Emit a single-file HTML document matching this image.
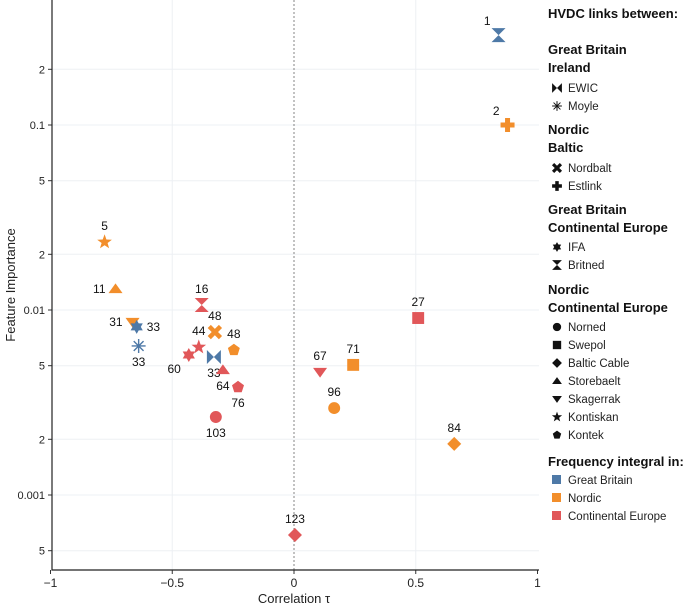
<!DOCTYPE html>
<html><head><meta charset="utf-8">
<style>
body{margin:0;background:#fff;font-family:"Liberation Sans","DejaVu Sans",sans-serif;}
svg{display:block}
text{font-family:"Liberation Sans","DejaVu Sans",sans-serif;}
</style></head>
<body>
<svg id="chart" width="685" height="611"></svg>
<script>
// ---- data ----
const pointLabels = ["1","2","5","11","31","33","33","16","48","48","44","60","33","64","76","103","67","71","27","96","84","123"];
const corrValues = [0.84,0.877,-0.778,-0.733,-0.663,-0.646,-0.638,-0.379,-0.325,-0.247,-0.391,-0.432,-0.329,-0.292,-0.230,-0.321,0.107,0.243,0.51,0.165,0.658,0.004];
const importanceValues = [0.306,0.1,0.0233,0.0130,0.0086,0.0081,0.00639,0.01064,0.0076,0.00608,0.0063,0.00571,0.00557,0.00474,0.00383,0.00264,0.00462,0.00505,0.00905,0.00295,0.00189,0.000608];
const linkTypes = ["britned","estlink","kontiskan","storebaelt","skagerrak","ifa","moyle","britned","nordbalt","kontek","kontiskan","ifa","ewic","storebaelt","kontek","norned","skagerrak","swepol","swepol","norned","baltic","baltic"];
const regions = ["gb","nordic","nordic","nordic","nordic","gb","gb","ce","nordic","nordic","ce","ce","gb","ce","ce","ce","ce","nordic","ce","nordic","nordic","ce"];
const xTickValues = [-1,-0.5,0,0.5,1];
const xTickLabels = ["−1","−0.5","0","0.5","1"];
const yTickValues = [0.2,0.1,0.05,0.02,0.01,0.005,0.002,0.001,0.0005];
const yTickLabels = ["2","0.1","5","2","0.01","5","2","0.001","5"];
// label placement (layout, not data): side of the marker
const labelSide = ["lt","lt","t","l","l","r","b","t","t","t","t","bl","b","b","b","b","t","t","t","t","t","t"];

const colors={gb:"#4e79a7",nordic:"#f28e2b",ce:"#e15759"};
const svg=document.getElementById('chart');
const NS="http://www.w3.org/2000/svg";
const L=52,R=539,T=0,B=570;
function xs(v){return 294+v*243.5;}
function ys(v){return 310-185*(Math.log10(v)+2);}
function mk(tag,attrs,parent){const e=document.createElementNS(NS,tag);for(const k in attrs)e.setAttribute(k,attrs[k]);(parent||svg).appendChild(e);return e;}

yTickValues.forEach((v,i)=>{
  const g=mk('line',{x1:L,x2:R,y1:ys(v),y2:ys(v),stroke:"#edf0f4","stroke-width":1});
  
  
  mk('line',{x1:L-4,x2:L,y1:ys(v),y2:ys(v),stroke:"#333"});
  const t=mk('text',{x:L-7,y:ys(v)+4,"text-anchor":"end","font-size":11,fill:"#222"});
  t.textContent=yTickLabels[i];
  
  
});
xTickValues.forEach((v,i)=>{
  if(v>-1&&v<1&&v!==0){const g=mk('line',{x1:xs(v),x2:xs(v),y1:T,y2:B,stroke:"#edf0f4"});
  
  }
  mk('line',{x1:xs(v),x2:xs(v),y1:B,y2:B+4,stroke:"#333"});
  const t=mk('text',{x:xs(v),y:B+17,"text-anchor":"middle","font-size":12,fill:"#222"});
  t.textContent=xTickLabels[i];
  
  
});
const zl=mk('line',{x1:xs(0),x2:xs(0),y1:T,y2:B,stroke:"#666","stroke-dasharray":"2,2","stroke-width":0.8});


const ax=mk('path',{d:`M${L},${T}V${B}H${R}`,fill:"none",stroke:"#222","stroke-width":1.2});


const xt=mk('text',{x:294,y:603,"text-anchor":"middle","font-size":13,fill:"#222"});xt.textContent="Correlation τ";


const yt=mk('text',{x:0,y:0,transform:"translate(15,285) rotate(-90)","text-anchor":"middle","font-size":13,fill:"#222"});yt.textContent="Feature Importance";



function starPts(cx,cy,n,ro,ri,rot){let p=[];for(let i=0;i<2*n;i++){const a=rot+Math.PI*i/n;const r=i%2?ri:ro;p.push((cx+r*Math.sin(a)).toFixed(1)+","+(cy-r*Math.cos(a)).toFixed(1));}return p.join(" ");}
function marker(type,cx,cy,c,s,parent){
  s=s||1;const r=7*s;let e;
  switch(type){
    case"britned":e=mk('polygon',{points:`${cx-r},${cy-r} ${cx+r},${cy-r} ${cx-r},${cy+r} ${cx+r},${cy+r}`,fill:c},parent);break;
    case"ewic":e=mk('polygon',{points:`${cx-r},${cy-r} ${cx+r},${cy+r} ${cx+r},${cy-r} ${cx-r},${cy+r}`,fill:c},parent);break;
    case"estlink":e=mk('path',{d:`M${cx-r},${cy}H${cx+r}M${cx},${cy-r}V${cy+r}`,stroke:c,"stroke-width":5*s},parent);break;
    case"nordbalt":e=mk('path',{d:`M${cx-r*0.8},${cy-r*0.8}L${cx+r*0.8},${cy+r*0.8}M${cx+r*0.8},${cy-r*0.8}L${cx-r*0.8},${cy+r*0.8}`,stroke:c,"stroke-width":4.5*s},parent);break;
    case"moyle":e=mk('path',{d:`M${cx-r},${cy}H${cx+r}M${cx},${cy-r}V${cy+r}M${cx-r*.7},${cy-r*.7}L${cx+r*.7},${cy+r*.7}M${cx+r*.7},${cy-r*.7}L${cx-r*.7},${cy+r*.7}`,stroke:c,"stroke-width":1.4*s},parent);break;
    case"kontiskan":e=mk('polygon',{points:starPts(cx,cy,5,r*1.1,r*0.45,0),fill:c},parent);break;
    case"ifa":e=mk('polygon',{points:starPts(cx,cy,6,r,r*0.58,0),fill:c},parent);break;
    case"kontek":e=mk('polygon',{points:starPts(cx,cy,5,r*0.9,r*0.9*0.809,0).split(" ").filter((_,i)=>i%2==0).join(" "),fill:c},parent);break;
    case"norned":e=mk('circle',{cx:cx,cy:cy,r:r*0.85,fill:c},parent);break;
    case"swepol":e=mk('rect',{x:cx-r*0.85,y:cy-r*0.85,width:r*1.7,height:r*1.7,fill:c},parent);break;
    case"baltic":e=mk('polygon',{points:`${cx},${cy-r} ${cx+r},${cy} ${cx},${cy+r} ${cx-r},${cy}`,fill:c},parent);break;
    case"storebaelt":e=mk('polygon',{points:`${cx},${cy-r*0.8} ${cx+r},${cy+r*0.6} ${cx-r},${cy+r*0.6}`,fill:c},parent);break;
    case"skagerrak":e=mk('polygon',{points:`${cx},${cy+r*0.8} ${cx+r},${cy-r*0.6} ${cx-r},${cy-r*0.6}`,fill:c},parent);break;
  }
  return e;
}
const offs={t:[0,-12,"middle"],b:[0,20,"middle"],l:[-10,4,"end"],r:[10,4,"start"],lt:[-8,-10,"end"],bl:[-8,18,"end"]};
corrValues.forEach((v,i)=>{
  const cx=xs(v),cy=ys(importanceValues[i]);
  const m=marker(linkTypes[i],cx,cy,colors[regions[i]]);
  
  
  const o=offs[labelSide[i]];
  const t=mk('text',{x:cx+o[0],y:cy+o[1],"text-anchor":o[2],"font-size":12,fill:"#111"});
  t.textContent=pointLabels[i];
  
  
});

const legend=[
 ["h","HVDC links between:",18],
 ["h","Great Britain",54],["h","Ireland",72],["m","ewic","EWIC",92],["m","moyle","Moyle",110],
 ["h","Nordic",134],["h","Baltic",152],["m","nordbalt","Nordbalt",172],["m","estlink","Estlink",190],
 ["h","Great Britain",214],["h","Continental Europe",232],["m","ifa","IFA",251],["m","britned","Britned",269],
 ["h","Nordic",294],["h","Continental Europe",312],["m","norned","Norned",331],["m","swepol","Swepol",349],["m","baltic","Baltic Cable",367],["m","storebaelt","Storebaelt",385],["m","skagerrak","Skagerrak",403],["m","kontiskan","Kontiskan",421],["m","kontek","Kontek",439],
 ["h","Frequency integral in:",466],["c","gb","Great Britain",484],["c","nordic","Nordic",502],["c","ce","Continental Europe",520]
];
legend.forEach(it=>{
  if(it[0]==="h"){const t=mk('text',{x:548,y:it[2],"font-size":13,"font-weight":"bold",fill:"#111"});t.textContent=it[1];
    
    }
  else if(it[0]==="m"){const m=marker(it[1],557,it[3]-4,"#111",0.7);
    
    
    const t=mk('text',{x:568,y:it[3],"font-size":11.5,fill:"#222"});t.textContent=it[2];
    
    }
  else{const r=mk('rect',{x:552,y:it[3]-9,width:9,height:9,fill:colors[it[1]]});
    
    
    const t=mk('text',{x:568,y:it[3],"font-size":11.5,fill:"#222"});t.textContent=it[2];
    
    }
});
</script>
</body></html>
